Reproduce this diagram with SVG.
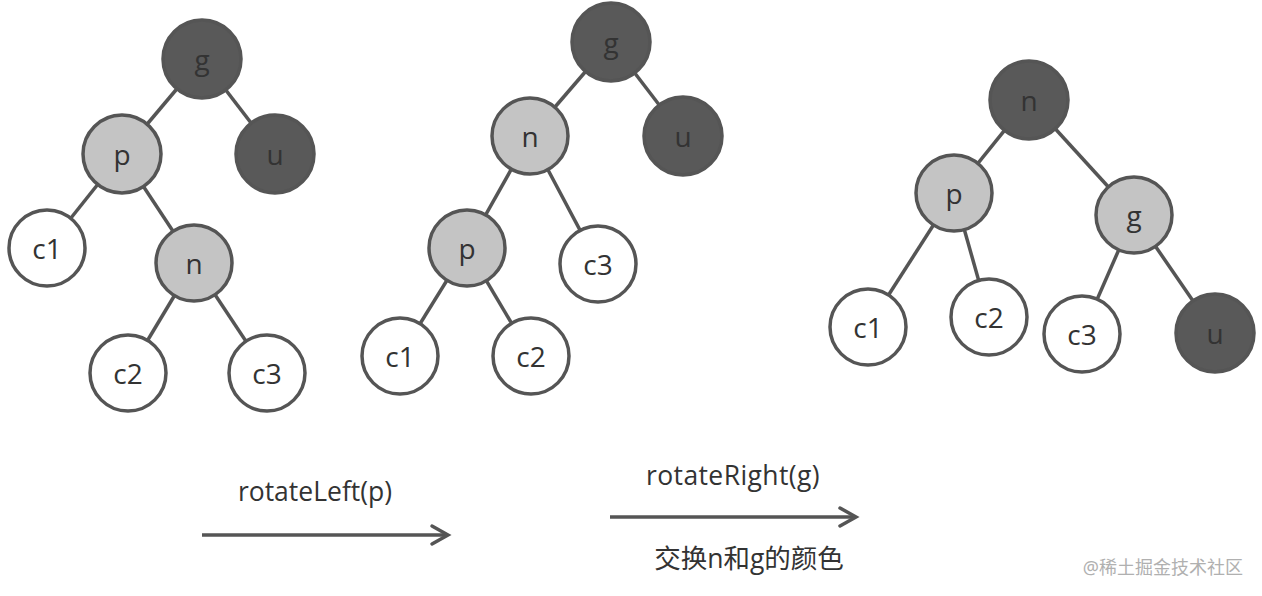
<svg xmlns="http://www.w3.org/2000/svg" width="1262" height="596" viewBox="0 0 1262 596">
<defs>
<style>
.e{stroke:#555;stroke-width:3.5;fill:none}
.n circle{stroke:#555;stroke-width:3.5}
.dark circle{fill:#595959}
.light circle{fill:#c4c4c4}
.white circle{fill:#fff}
.n text{font-family:"Open Sans","Noto Sans",sans-serif;font-size:28px;fill:#333;text-anchor:middle;dominant-baseline:central}
.lbl{font-family:"Open Sans","Noto Sans","Noto Sans CJK SC",sans-serif;font-size:26.5px;fill:#333;text-anchor:middle}
</style>
<marker id="ah" markerWidth="24" markerHeight="24" viewBox="0 0 24 24" refX="20" refY="12" orient="auto" markerUnits="userSpaceOnUse">
<path d="M4,3 L20,12 L4,21" fill="none" stroke="#555" stroke-width="3.5" stroke-linecap="round" stroke-linejoin="miter"/>
</marker>
</defs>
<rect width="1262" height="596" fill="#fff"/>
<g id="connectors">
<line class="e" x1="202" y1="59" x2="122" y2="154"/>
<line class="e" x1="202" y1="59" x2="275" y2="154"/>
<line class="e" x1="122" y1="154" x2="47" y2="248"/>
<line class="e" x1="122" y1="154" x2="194" y2="263"/>
<line class="e" x1="194" y1="263" x2="128" y2="373"/>
<line class="e" x1="194" y1="263" x2="267" y2="373"/>
<line class="e" x1="611" y1="42" x2="530" y2="136"/>
<line class="e" x1="611" y1="42" x2="683" y2="136"/>
<line class="e" x1="530" y1="136" x2="467" y2="248"/>
<line class="e" x1="530" y1="136" x2="598" y2="264"/>
<line class="e" x1="467" y1="248" x2="400" y2="356"/>
<line class="e" x1="467" y1="248" x2="531" y2="356"/>
<line class="e" x1="1029" y1="100" x2="954" y2="193"/>
<line class="e" x1="1029" y1="100" x2="1134" y2="215"/>
<line class="e" x1="954" y1="193" x2="868" y2="327"/>
<line class="e" x1="954" y1="193" x2="989" y2="317"/>
<line class="e" x1="1134" y1="215" x2="1082" y2="334"/>
<line class="e" x1="1134" y1="215" x2="1215" y2="333"/>
<line class="e" x1="202" y1="535" x2="448" y2="535" marker-end="url(#ah)"/>
<line class="e" x1="610" y1="517" x2="856" y2="517" marker-end="url(#ah)"/>
</g>
<g id="t1-g" class="n dark"><circle cx="202" cy="59" r="39"/><text x="202" y="59">g</text></g>
<g id="t1-p" class="n light"><circle cx="122" cy="154" r="39"/><text x="122" y="154">p</text></g>
<g id="t1-u" class="n dark"><circle cx="275" cy="154" r="39"/><text x="275" y="154">u</text></g>
<g id="t1-c1" class="n white"><circle cx="47" cy="248" r="38"/><text x="47" y="248">c1</text></g>
<g id="t1-n" class="n light"><circle cx="194" cy="263" r="38"/><text x="194" y="263">n</text></g>
<g id="t1-c2" class="n white"><circle cx="128" cy="373" r="38"/><text x="128" y="373">c2</text></g>
<g id="t1-c3" class="n white"><circle cx="267" cy="373" r="38"/><text x="267" y="373">c3</text></g>

<g id="t2-g" class="n dark"><circle cx="611" cy="42" r="39"/><text x="611" y="42">g</text></g>
<g id="t2-n" class="n light"><circle cx="530" cy="136" r="38"/><text x="530" y="136">n</text></g>
<g id="t2-u" class="n dark"><circle cx="683" cy="136" r="39"/><text x="683" y="136">u</text></g>
<g id="t2-p" class="n light"><circle cx="467" cy="248" r="38"/><text x="467" y="248">p</text></g>
<g id="t2-c3" class="n white"><circle cx="598" cy="264" r="38"/><text x="598" y="264">c3</text></g>
<g id="t2-c1" class="n white"><circle cx="400" cy="356" r="38"/><text x="400" y="356">c1</text></g>
<g id="t2-c2" class="n white"><circle cx="531" cy="356" r="38"/><text x="531" y="356">c2</text></g>

<g id="t3-n" class="n dark"><circle cx="1029" cy="100" r="39"/><text x="1029" y="100">n</text></g>
<g id="t3-p" class="n light"><circle cx="954" cy="193" r="38"/><text x="954" y="193">p</text></g>
<g id="t3-g" class="n light"><circle cx="1134" cy="215" r="38"/><text x="1134" y="215">g</text></g>
<g id="t3-c1" class="n white"><circle cx="868" cy="327" r="38"/><text x="868" y="327">c1</text></g>
<g id="t3-c2" class="n white"><circle cx="989" cy="317" r="38"/><text x="989" y="317">c2</text></g>
<g id="t3-c3" class="n white"><circle cx="1082" cy="334" r="38"/><text x="1082" y="334">c3</text></g>
<g id="t3-u" class="n dark"><circle cx="1215" cy="333" r="39"/><text x="1215" y="333">u</text></g>

<g id="labels">
<text class="lbl" x="315" y="501" font-size="26">rotateLeft(p)</text>
<text class="lbl" x="733" y="485" letter-spacing="0.4">rotateRight(g)</text>
<text class="lbl" x="749" y="568" font-size="32">交换n和g的颜色</text>
<text x="1243" y="574" font-family="'Noto Sans','Noto Sans CJK SC',sans-serif" font-size="18" fill="#b0b0b0" text-anchor="end">@稀土掘金技术社区</text>
</g>
</svg>
